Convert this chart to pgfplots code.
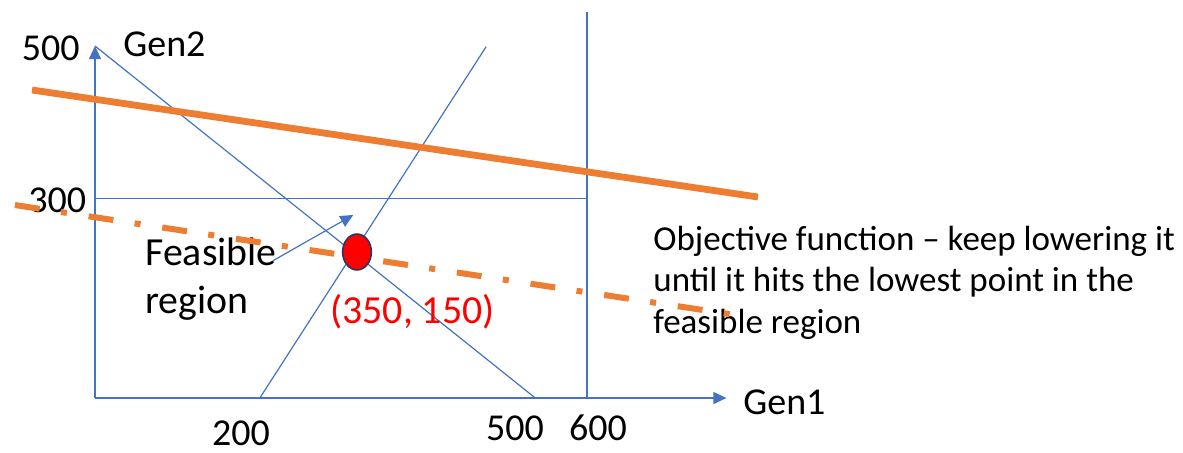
\documentclass[border=0pt]{standalone}
\usepackage{pgfplots}
\pgfplotsset{compat=1.18}
\usetikzlibrary{arrows.meta}
\usepackage{fontspec}
\setmainfont{Carlito}
\definecolor{lineblue}{HTML}{4472C4}
\definecolor{objorange}{HTML}{ED7D31}
\definecolor{rimnavy}{HTML}{1F3864}

\tikzset{
  lbl/.style={anchor=base west, inner sep=0pt, font=\fontsize{19}{22}\selectfont},
  big/.style={anchor=base west, inner sep=0pt, font=\fontsize{19.9}{23}\selectfont},
  obj/.style={anchor=base west, inner sep=0pt, font=\fontsize{17.5}{21}\selectfont},
  tip/.style={-{Triangle[width=6pt,length=6.5pt]}}
}

\begin{document}
\begin{tikzpicture}
\begin{axis}[
    width=591.5pt, height=226pt, scale only axis,
    xmin=-115.85, xmax=1326.83,
    ymin=-76.70, ymax=565.34,
    hide axis, clip=false
]
    \path (rel axis cs:0,0) rectangle (rel axis cs:1,1);

    % Gen1 / Gen2 axes
    \addplot[lineblue, line width=0.6pt, tip] coordinates {(0,0) (770,0)};
    \addplot[lineblue, line width=0.6pt, tip] coordinates {(0,0) (0,500)};

    % constraints
    \addplot[lineblue, line width=1pt] coordinates {(600,0) (600,548)};
    \addplot[lineblue, line width=0.6pt] coordinates {(0,283) (600,283)};
    \addplot[lineblue, line width=0.6pt] coordinates {(201,0) (477,499)};
    \addplot[lineblue, line width=0.6pt] coordinates {(0,500) (537,0)};

    % pointer from "Feasible region"
    \addplot[lineblue, line width=0.6pt, tip] coordinates {(217,195) (315,260)};

    % objective function, first position
    \addplot[objorange, line width=3.4pt] coordinates {(-76.8,437.5) (808.5,285.5)};

    % optimum
    \addplot[only marks, mark=*, mark size=9pt,
        mark options={xscale=0.8, fill=red, draw=rimnavy, line width=0.75pt}]
        coordinates {(319.5,207.4)};

    % labels
    \node[lbl, anchor=base east] at (axis cs:-18.3,478.7) {500};
    \node[lbl] at (axis cs:34.1,484.4) {Gen2};
    \node[lbl] at (axis cs:-81.7,262.8) {300};
    \node[big] at (axis cs:61,188.9) {Feasible};
    \node[big] at (axis cs:61,120.7) {region};
    \node[big, text=red] at (axis cs:286.6,106.5) {(350, 150)};
    \node[obj] at (axis cs:680.5,210.2) {Objective function – keep lowering it};
    \node[obj] at (axis cs:680.5,150.6) {until it hits the lowest point in the};
    \node[obj] at (axis cs:680.5,92.3) {feasible region};
    \node[lbl] at (axis cs:790.2,-24.1) {Gen1};
    \node[lbl, anchor=base] at (axis cs:178,-66.8) {200};
    \node[lbl, anchor=base] at (axis cs:512.2,-59.7) {500};
    \node[lbl, anchor=base] at (axis cs:613.4,-59.7) {600};

    % objective function, lowered
    \addplot[objorange, line width=3pt, dash pattern=on 12.5pt off 10.75pt on 3pt off 11pt]
        coordinates {(-97.6,274.1) (789,116.5)};
\end{axis}
\end{tikzpicture}
\end{document}
